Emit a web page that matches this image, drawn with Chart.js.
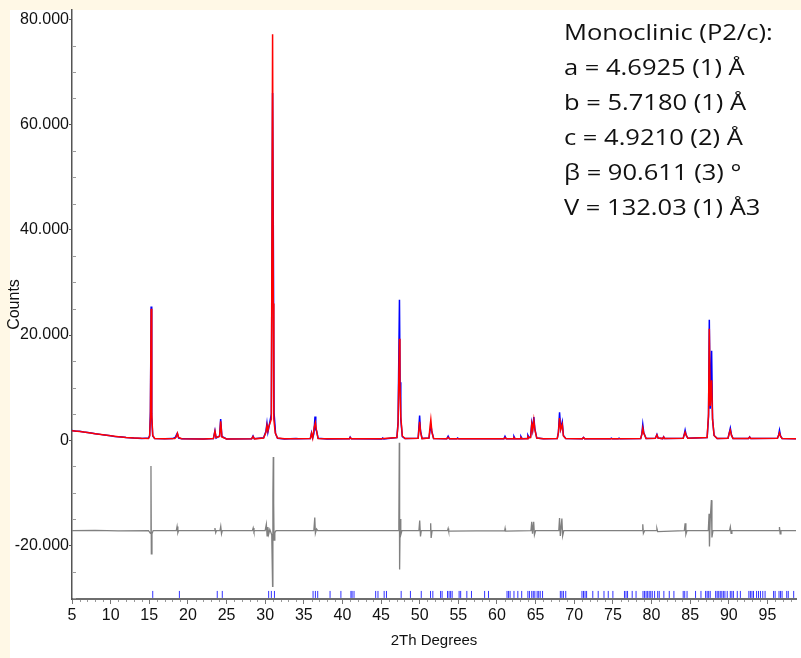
<!DOCTYPE html>
<html>
<head>
<meta charset="utf-8">
<script src="https://cdn.jsdelivr.net/npm/chart.js@4.4.0/dist/chart.umd.min.js"></script>
<style>
  html, body { margin: 0; padding: 0; background: #fff8e6; }
  #wrap { position: absolute; left: 0; top: 0; width: 801px; height: 658px; }
</style>
</head>
<body>
<div id="wrap"><canvas id="xrdChart"></canvas></div>
<script>
// ===== DATA =====
// observed pattern [2theta, counts]
const observed = [
  [5,1850],[5.5,1720],[6,1690],[6.5,1560],[7,1480],[7.5,1360],[8,1240],[8.5,1150],[9,1010],[9.5,940],
  [10,840],[10.5,720],[11,650],[11.5,590],[12,510],[12.5,480],[13,420],[13.5,380],[14,340],[14.5,350],
  [14.9,360],[15.05,900],[15.15,5500],[15.24,25400],[15.32,4200],[15.45,800],[15.7,300],[17,260],[18.0,300],
  [18.35,500],[18.55,1100],[18.62,1300],[18.8,400],[19.2,250],[22,230],[23.3,300],[23.5,1800],[23.65,400],
  [24.1,800],[24.24,4000],[24.4,700],[25,230],[28.25,260],[28.43,800],[28.6,260],[29.8,450],[30.1,1700],
  [30.23,3200],[30.35,1500],[30.45,2200],[30.8,5000],[30.96,66000],[31.05,41000],[31.15,5200],[31.35,1200],
  [31.6,350],[32.5,230],[34,300],[34.3,250],[35.85,320],[36.0,1400],[36.15,450],[36.3,1200],[36.45,4500],
  [36.55,2000],[36.66,1800],[36.85,350],[38,240],[40.9,260],[41.0,600],[41.15,260],[45.1,240],[45.2,420],
  [45.35,240],[47.05,500],[47.2,3500],[47.38,26700],[47.46,11000],[47.55,4000],[47.75,700],[48.1,300],
  [49.8,350],[49.99,4700],[50.1,1800],[50.3,320],[51.2,400],[51.35,2000],[51.44,3000],[51.55,1800],
  [51.8,320],[53.5,260],[53.68,760],[53.85,260],[54.8,250],[54.9,420],[55.05,250],[60.9,260],[61.04,750],
  [61.2,260],[62.1,260],[62.2,700],[62.35,260],[63.0,280],[63.1,700],[63.25,280],[63.9,300],[64.0,950],
  [64.15,500],[64.35,600],[64.5,3200],[64.62,2000],[64.77,4400],[64.9,2200],[65.15,400],[66,260],
  [67.8,300],[67.95,1500],[68.1,5300],[68.25,2200],[68.45,3500],[68.6,900],[68.9,300],[71.05,260],
  [71.2,520],[71.35,260],[74.7,260],[74.8,400],[74.95,260],[75.7,260],[75.8,380],[75.95,260],[78.6,300],
  [78.75,1200],[78.87,3000],[79.0,1400],[79.3,300],[80.5,350],[80.7,1100],[80.85,400],[81.45,300],
  [81.57,650],[81.7,300],[84.1,350],[84.25,1200],[84.35,1900],[84.5,900],[84.7,350],[87.2,500],[87.38,4500],
  [87.48,22900],[87.6,6000],[87.78,17000],[87.9,4000],[88.1,900],[88.5,320],[89.9,350],[90.08,1500],
  [90.2,2300],[90.35,1000],[90.55,320],[92.55,300],[92.7,620],[92.85,300],[96.3,350],[96.45,1000],
  [96.56,1900],[96.7,800],[96.9,330],[98.8,280]
];

// calculated pattern [2theta, counts]
const calculated = [
  [5,1800],[6,1640],[7,1440],[8,1230],[9,1020],[10,830],[11,660],[12,520],[13,420],[14,350],
  [14.9,330],[15.05,800],[15.15,4500],[15.24,25000],[15.32,5000],[15.45,900],[15.7,330],[17,270],[18.3,300],
  [18.5,650],[18.65,1300],[18.8,500],[19.2,270],[22,240],[23.3,300],[23.5,1700],[23.65,500],[24.1,700],
  [24.24,3600],[24.4,600],[25,240],[28.25,250],[28.43,700],[28.6,250],[29.8,400],[30.1,1500],[30.23,2800],
  [30.35,1800],[30.45,2500],[30.8,4000],[30.96,77200],[31.05,26000],[31.12,4000],[31.3,1400],[31.6,400],
  [32.5,250],[35.85,300],[36.0,1300],[36.15,400],[36.35,2500],[36.5,3300],[36.66,1600],[36.85,320],[38,250],
  [40.9,260],[41.0,500],[41.15,260],[45,250],[47.05,500],[47.2,3000],[47.38,19300],[47.44,11000],
  [47.55,4500],[47.75,800],[48.1,300],[49.8,350],[49.99,3500],[50.12,1500],[50.3,300],[51.2,400],
  [51.33,2500],[51.44,3900],[51.58,1500],[51.8,300],[53.5,250],[53.68,550],[53.85,250],[55,250],
  [60.9,250],[61.04,500],[61.2,250],[62.1,250],[62.2,450],[62.35,250],[63.0,260],[63.1,500],[63.25,260],
  [63.9,280],[64.0,700],[64.15,450],[64.35,500],[64.5,3000],[64.62,1900],[64.77,3800],[64.9,2000],
  [65.15,400],[66,250],[67.8,300],[67.95,1400],[68.1,4200],[68.25,2000],[68.45,3000],[68.6,800],[68.9,300],
  [71.05,250],[71.2,480],[71.35,250],[75,250],[78.6,300],[78.75,1100],[78.87,2300],[79.0,1300],[79.3,300],
  [80.5,350],[80.7,1000],[80.85,400],[81.45,300],[81.57,600],[81.7,300],[84.1,350],[84.25,1100],
  [84.35,1500],[84.5,900],[84.7,350],[87.2,500],[87.38,5000],[87.48,21200],[87.6,6500],[87.78,11400],
  [87.9,4000],[88.1,900],[88.5,320],[89.9,350],[90.08,1400],[90.2,1900],[90.35,900],[90.55,320],
  [92.55,300],[92.7,560],[92.85,300],[96.3,350],[96.45,900],[96.56,1400],[96.7,700],[96.9,330],[98.8,280]
];

// difference curve (obs - calc, offset) [2theta, counts]
const difference = [
  [5,-17200],[8,-17150],[11,-17250],[14.9,-17200],[15.15,-17700],[15.22,-4900],[15.27,-21600],
  [15.35,-17800],[15.5,-17200],[18.5,-17200],[18.6,-16400],[18.7,-17600],[18.8,-17200],[23.4,-17200],
  [23.5,-16700],[23.6,-17600],[23.7,-17200],[24.15,-17200],[24.25,-16400],[24.35,-17800],[24.45,-17200],
  [28.35,-17200],[28.45,-16700],[28.55,-17400],[28.65,-17200],[30.0,-17200],[30.15,-16000],[30.25,-18200],
  [30.35,-16500],[30.45,-17900],[30.6,-17000],[30.85,-18000],[30.96,-27800],[31.0,-10500],[31.05,-3200],
  [31.1,-12000],[31.15,-19000],[31.25,-17600],[31.4,-17200],[36.3,-17200],[36.42,-14700],[36.5,-17700],
  [36.65,-16900],[36.8,-17200],[47.2,-17200],[47.3,-16000],[47.36,-500],[47.4,-24600],[47.47,-15000],
  [47.55,-18000],[47.7,-17200],[49.9,-17200],[50.0,-15300],[50.1,-18300],[50.2,-17200],[51.35,-17200],
  [51.42,-15800],[51.48,-18600],[51.6,-17200],[53.6,-17200],[53.68,-16800],[53.75,-17300],[61.0,-17200],
  [61.05,-16800],[61.1,-17300],[64.4,-17200],[64.5,-15500],[64.6,-17800],[64.75,-15500],[64.85,-18000],
  [65.0,-17200],[68.0,-17200],[68.1,-14800],[68.2,-18200],[68.4,-14900],[68.5,-18200],[68.65,-17200],
  [78.8,-17200],[78.87,-16000],[78.95,-17700],[79.1,-17200],[80.65,-17200],[80.7,-16800],[80.8,-17400],
  [84.25,-17200],[84.35,-15800],[84.45,-17900],[84.6,-17200],[87.35,-17200],[87.45,-14000],[87.5,-20200],
  [87.6,-15000],[87.75,-11400],[87.82,-18500],[87.95,-17200],[90.1,-17200],[90.2,-16500],[90.3,-17700],
  [90.4,-17200],[96.5,-17200],[96.56,-16500],[96.65,-17800],[96.75,-17200],[98.8,-17200]
];

// Bragg reflection positions (2theta)
const hklPos = [
  15.45, 18.9, 23.8, 24.45, 30.45, 30.8, 31.2, 36.2, 36.5, 36.8, 38.4, 39.8, 41.1, 41.25, 41.5,
  44.3, 44.6, 45.4, 45.7, 47.6, 48.8, 50.2, 51.4, 51.7, 52.7, 52.9, 53.6, 53.8, 54.0, 54.2, 55.1,
  55.3, 56.1, 56.7, 58.4, 58.9, 61.3, 61.5, 61.7, 62.2, 62.7, 63.2, 64.0, 64.2, 64.5, 64.7, 64.9,
  65.2, 65.4, 65.6, 65.9, 68.2, 68.4, 68.6, 68.9, 71.0, 71.2, 71.4, 71.6, 72.4, 73.1, 73.85, 74.4,
  75.0, 76.5, 76.7, 76.9, 77.5, 78.0, 78.9, 79.1, 79.3, 79.5, 79.7, 79.9, 80.1, 80.4, 80.8, 81.0,
  81.6, 82.3, 82.9, 84.1, 84.3, 84.6, 85.7, 86.4, 87.0, 87.2, 87.4, 87.6, 88.3, 88.5, 88.7, 88.9,
  89.1, 89.3, 89.5, 89.8, 90.2, 90.4, 90.6, 91.1, 91.5, 92.6, 92.8, 93.0, 93.2, 93.6, 93.85, 94.1,
  94.4, 94.7, 95.8, 96.0, 96.5, 96.7, 96.9, 97.5, 97.7, 98.4
];
const hklLevel = -29330;

// axis ranges, tick values and annotation text
const xRange = [5, 98.7];
const yRange = [-30200, 81800];
const yTickVals = [-20000, 0, 20000, 40000, 60000, 80000];
const cellLines = [
  'Monoclinic (P2/c):',
  'a = 4.6925 (1) Å',
  'b = 5.7180 (1) Å',
  'c = 4.9210 (2) Å',
  'β = 90.611 (3) °',
  'V = 132.03 (1) Å3'
];

const toPts = arr => arr.map(p => ({ x: p[0], y: p[1] }));
const sans = "'Liberation Sans', Arial, sans-serif";

// ===== PLUGINS =====
const backdrop = {
  id: 'backdrop',
  beforeDraw(chart) {
    const ctx = chart.ctx;
    ctx.save();
    ctx.fillStyle = '#fff8e6';
    ctx.fillRect(0, 0, chart.width, chart.height);
    ctx.fillStyle = '#ffffff';
    ctx.fillRect(10, 10, chart.width - 10, chart.height - 10);
    ctx.restore();
  }
};

const minorTicks = {
  id: 'minorTicks',
  afterDraw(chart) {
    const { ctx, scales: { x, y }, chartArea } = chart;
    ctx.save();
    ctx.strokeStyle = '#9a9a9a';
    ctx.lineWidth = 1;
    ctx.beginPath();
    for (let d = 6; d < xRange[1]; d++) {
      if (d % 5 === 0) continue;
      const px = Math.round(x.getPixelForValue(d)) + 0.5;
      ctx.moveTo(px, chartArea.bottom + 1);
      ctx.lineTo(px, chartArea.bottom + 3);
    }
    for (let v = -30000; v <= 80000; v += 5000) {
      if (v % 20000 === 0) continue;
      const py = Math.round(y.getPixelForValue(v)) + 0.5;
      ctx.moveTo(chartArea.left + 1, py);
      ctx.lineTo(chartArea.left + 4, py);
    }
    ctx.stroke();

    // lattice parameters box text
    ctx.fillStyle = '#111111';
    ctx.font = "22px 'Open Sans', sans-serif";
    ctx.textBaseline = 'alphabetic';
    cellLines.forEach((line, i) => {
      ctx.save();
      ctx.translate(564, 40 + i * 35);
      ctx.scale(1.16, 1);
      ctx.fillText(line, 0, 0);
      ctx.restore();
    });
    ctx.restore();
  }
};

// ===== CHART =====
new Chart(document.getElementById('xrdChart'), {
  type: 'line',
  data: {
    datasets: [
      {
        label: 'Calculated',
        data: toPts(calculated),
        borderColor: '#ff0000',
        borderWidth: 1.5,
        pointRadius: 0,
        tension: 0,
        order: 1
      },
      {
        label: 'Observed',
        data: toPts(observed),
        borderColor: '#0000ff',
        borderWidth: 1.5,
        pointRadius: 0,
        tension: 0,
        order: 2
      },
      {
        label: 'Difference',
        data: toPts(difference),
        borderColor: '#808080',
        borderWidth: 1.3,
        pointRadius: 0,
        tension: 0,
        order: 3
      },
      {
        label: 'Reflections',
        data: hklPos.map(p => ({ x: p, y: hklLevel })),
        showLine: false,
        pointStyle: 'line',
        pointRotation: 90,
        pointRadius: 3.5,
        pointBorderWidth: 1,
        pointBorderColor: 'rgba(0, 0, 255, 0.8)',
        order: 4
      }
    ]
  },
  options: {
    responsive: true,
    maintainAspectRatio: false,
    animation: false,
    events: [],
    layout: { padding: { top: 10, right: 0, bottom: 0, left: 0 } },
    plugins: {
      legend: { display: false },
      tooltip: { enabled: false }
    },
    scales: {
      x: {
        type: 'linear',
        min: xRange[0],
        max: xRange[1],
        afterFit: s => { s.height = 59; },
        border: { color: '#6e6e6e', width: 2 },
        grid: { drawOnChartArea: false, tickLength: 5, tickColor: '#777777' },
        ticks: {
          stepSize: 5,
          includeBounds: false,
          autoSkip: false,
          maxRotation: 0,
          padding: 2,
          color: '#111111',
          font: { family: sans, size: 16 }
        },
        title: {
          display: true,
          text: '2Th Degrees',
          color: '#111111',
          font: { family: sans, size: 15 },
          padding: { top: 0, bottom: 8 }
        }
      },
      y: {
        min: yRange[0],
        max: yRange[1],
        afterFit: s => { s.width = 72; },
        afterBuildTicks: s => { s.ticks = yTickVals.map(v => ({ value: v })); },
        border: { color: '#555555', width: 1.5 },
        grid: { drawOnChartArea: false, tickLength: 3, tickColor: '#555555' },
        ticks: {
          padding: 0,
          color: '#111111',
          font: { family: sans, size: 16 },
          callback: v => (v === 0 ? '0' : (v / 1000).toFixed(3))
        },
        title: {
          display: true,
          text: 'Counts',
          color: '#111111',
          font: { family: sans, size: 16 },
          padding: { top: 5, bottom: 0 }
        }
      }
    }
  },
  plugins: [backdrop, minorTicks]
});
</script>
</body>
</html>
